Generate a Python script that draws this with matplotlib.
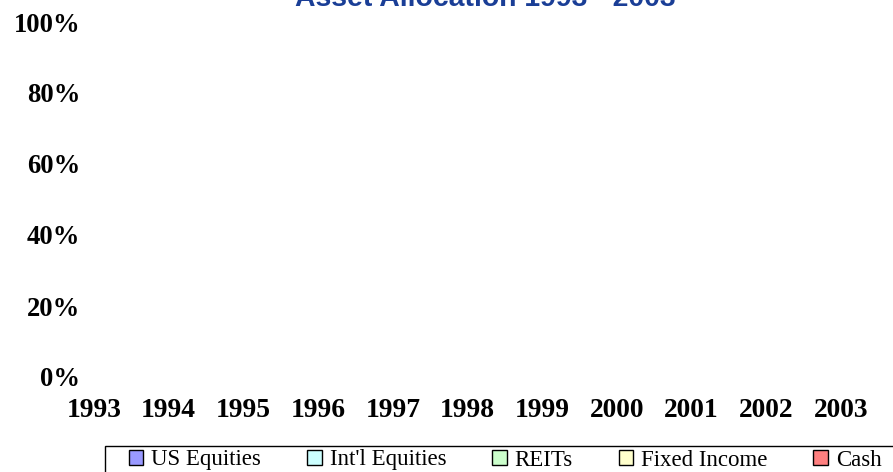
import numpy as np
import matplotlib
matplotlib.use("Agg")
import matplotlib.pyplot as plt
from matplotlib.patches import Rectangle

# ---- data (the reference chart shows no plotted values) ----
years = [1993, 1994, 1995, 1996, 1997, 1998, 1999, 2000, 2001, 2002, 2003]
series_names = ["US Equities", "Int'l Equities", "REITs", "Fixed Income", "Cash"]
us_equities = [np.nan] * len(years)
intl_equities = [np.nan] * len(years)
reits = [np.nan] * len(years)
fixed_income = [np.nan] * len(years)
cash = [np.nan] * len(years)
y_ticks = [0, 20, 40, 60, 80, 100]
y_tick_labels = ["0%", "20%", "40%", "60%", "80%", "100%"]
title = "Asset Allocation 1993 - 2003"

colors = ["#9999FF", "#CCFFFF", "#CCFFCC", "#FFFFCC", "#FF8080"]

W, H = 893, 472
fig = plt.figure(figsize=(W / 100, H / 100), dpi=100)
fig.patch.set_facecolor("white")

ax = fig.add_axes([94 / W, 1 - 377 / H, (841 - 94) / W, (377 - 22) / H])
polys = ax.stackplot(years, us_equities, intl_equities, reits, fixed_income, cash,
                     labels=series_names, colors=colors,
                     edgecolor="black", linewidth=1)

ax.set_xlim(years[0], years[-1])
ax.set_ylim(0, 100)
ax.set_xticks(years)
ax.set_xticklabels([str(y) for y in years])
ax.set_yticks(y_ticks)
ax.set_yticklabels(y_tick_labels)
for s in ax.spines.values():
    s.set_visible(False)
ax.tick_params(axis="both", length=0)
ax.tick_params(axis="x", pad=15)
ax.tick_params(axis="y", pad=10)
for lab in ax.get_xticklabels():
    lab.set_fontfamily("Liberation Serif")
    lab.set_fontweight("bold")
    lab.set_fontsize(19.8)
    lab.set_color("black")
for lab in ax.get_yticklabels():
    lab.set_fontfamily("Liberation Serif")
    lab.set_fontweight("bold")
    lab.set_fontsize(19.2)
    lab.set_color("black")

# title (mostly cut off at the top edge, as in the reference)
fig.text(485 / W, 1 - 6 / H, title, ha="center", va="baseline",
         fontfamily="Liberation Sans", fontweight="bold", fontsize=20.4,
         color="#1A3E96")

# legend (frameless) plus its box running off the canvas
leg = fig.legend(handles=polys, labels=series_names, loc="center left",
                 bbox_to_anchor=(129 / W, 1 - 460 / H), ncol=5, frameon=False,
                 borderpad=0, borderaxespad=0, handlelength=0.63,
                 handleheight=0.63, handletextpad=0.35, columnspacing=2.0,
                 prop={"family": "Liberation Serif", "size": 16.5})
fig.patches.append(Rectangle((105 / W, -0.05), 1.0, (472 - 446) / H + 0.05,
                             transform=fig.transFigure, fill=False,
                             edgecolor="black", linewidth=1))

fig.savefig("out.png", dpi=100, facecolor="white")
